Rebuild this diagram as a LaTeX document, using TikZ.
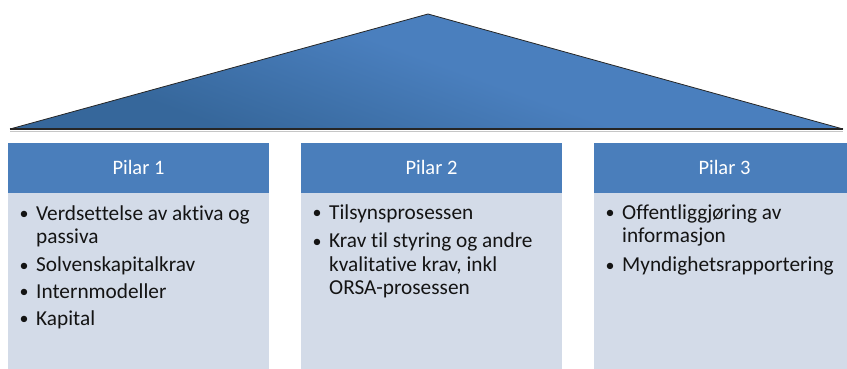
\documentclass[tikz,border=0pt]{standalone}
\usepackage{fontspec}
\setmainfont[Ligatures=NoCommon]{Carlito}
\definecolor{headblue}{HTML}{4A7EBB}
\definecolor{bodyblue}{HTML}{D3DBE8}
\definecolor{roofdark}{HTML}{36679B}
\definecolor{roofmid}{HTML}{4A7FBE}
\pgfdeclareverticalshading{roofshade}{100bp}{
  color(0bp)=(roofdark); color(30bp)=(roofdark); color(52bp)=(roofmid); color(100bp)=(roofmid)}
\tikzset{
  headbox/.style={fill=headblue, draw=none},
  bodybox/.style={fill=bodyblue, draw=none},
  headtext/.style={text=white, font=\fontsize{20.5}{24}\selectfont, anchor=base, inner sep=0pt},
  itemtext/.style={text=black!92, font=\fontsize{21.3}{24}\selectfont, anchor=base west, inner sep=0pt},
  dot/.style={text=black!92, font=\fontsize{18}{24}\selectfont, anchor=base, inner sep=0pt},
}
\begin{document}
\begin{tikzpicture}[x=1pt,y=-1pt]
\useasboundingbox (0,0) rectangle (847,369);

% roof
\coordinate (roofL) at (10,129);
\coordinate (roofR) at (843,129);
\coordinate (roofT) at (428,14);
\draw[gray!45, line width=1pt] (10,131) -- (843,131);
\shade[shading=roofshade, shading angle=-20]
  (roofL) -- (roofT) -- (roofR) -- cycle;
\draw[black!85, line width=0.8pt, line join=miter] (roofL) -- (roofT) -- (roofR);
\draw[black!85, line width=1.3pt] (roofL) -- (roofR);

% pillars: header bars and bodies
\fill[bodybox] (8,193) rectangle (269,369);
\fill[headbox] (8,143) rectangle (269,193);
\fill[bodybox] (301,193) rectangle (562,369);
\fill[headbox] (301,143) rectangle (562,193);
\fill[bodybox] (594,193) rectangle (855,369);
\fill[headbox] (594,143) rectangle (855,193);

\node[headtext] (h1) at (138.5,174) {Pilar 1};
\node[headtext] (h2) at (431.5,174) {Pilar 2};
\node[headtext] (h3) at (724.5,174) {Pilar 3};

% Pilar 1 items
\node[dot] (b1a) at (24,219.5) {•};
\node[itemtext] (t1a) at (36,220) {Verdsettelse av aktiva og};
\node[itemtext] (t1b) at (36,243.5) {passiva};
\node[dot] (b1c) at (24,271) {•};
\node[itemtext] (t1c) at (36,271.5) {Solvenskapitalkrav};
\node[dot] (b1d) at (24,297.5) {•};
\node[itemtext] (t1d) at (36,298) {Internmodeller};
\node[dot] (b1e) at (24,324.5) {•};
\node[itemtext] (t1e) at (36,325) {Kapital};

% Pilar 2 items
\node[dot] (b2a) at (317,218.5) {•};
\node[itemtext] (t2a) at (329,219) {Tilsynsprosessen};
\node[dot] (b2b) at (317,247) {•};
\node[itemtext] (t2b) at (329,247.5) {Krav til styring og andre};
\node[itemtext] (t2c) at (329,271) {kvalitative krav, inkl};
\node[itemtext] (t2d) at (329,294.5) {ORSA-prosessen};

% Pilar 3 items
\node[dot] (b3a) at (610,218.5) {•};
\node[itemtext] (t3a) at (622,219) {Offentliggjøring av};
\node[itemtext] (t3b) at (622,242.5) {informasjon};
\node[dot] (b3c) at (610,271) {•};
\node[itemtext] (t3c) at (622,271.5) {Myndighetsrapportering};
\end{tikzpicture}
\end{document}
